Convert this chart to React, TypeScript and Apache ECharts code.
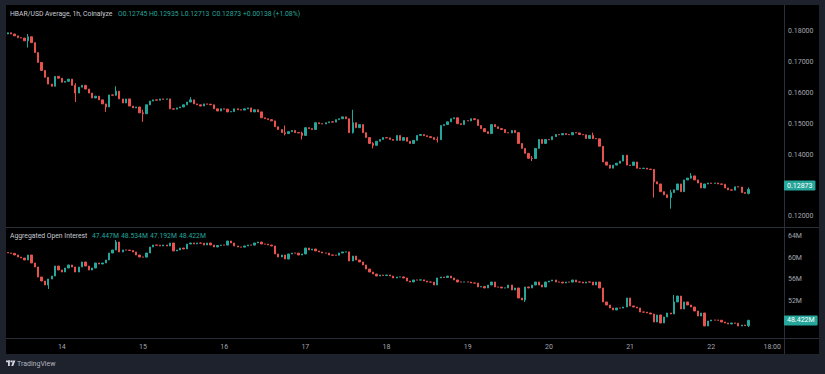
import React, { useEffect, useRef } from 'react';
import * as echarts from 'echarts';

// ---------- data ----------
const START_DAY = 13;
const START_HOUR = 8;
const SLOT_COUNT = 230;

const X_TICK_CATEGORIES = ['14 00:00', '15 00:00', '16 00:00', '17 00:00', '18 00:00', '19 00:00', '20 00:00', '21 00:00', '22 00:00', '22 18:00'];
const X_TICK_LABELS = ['14', '15', '16', '17', '18', '19', '20', '21', '22', '18:00'];

const PRICE_FIRST_OPEN = 0.1790;
const PRICE_CLOSE = [
  // 13th 08:00 ->
  0.1794, 0.1790, 0.1784, 0.1778, 0.1777, 0.1768, 0.1781, 0.1762, 0.1730, 0.1698, 0.1672, 0.1650, 0.1628, 0.1621, 0.1653, 0.1647,
  // 14th
  0.1634, 0.1637, 0.1644, 0.1624, 0.1599, 0.1618, 0.1624, 0.1612, 0.1599, 0.1583, 0.1589, 0.1577, 0.1564, 0.1554, 0.1593, 0.1592, 0.1605, 0.1580, 0.1567, 0.1580, 0.1557, 0.1551, 0.1554, 0.1535,
  // 15th
  0.1532, 0.1561, 0.1573, 0.1577, 0.1576, 0.1580, 0.1579, 0.1580, 0.1548, 0.1547, 0.1551, 0.1554, 0.1561, 0.1570, 0.1577, 0.1564, 0.1561, 0.1557, 0.1564, 0.1563, 0.1561, 0.1548, 0.1541, 0.1548,
  // 16th
  0.1547, 0.1538, 0.1539, 0.1548, 0.1545, 0.1544, 0.1548, 0.1551, 0.1538, 0.1545, 0.1538, 0.1519, 0.1516, 0.1513, 0.1509, 0.1490, 0.1481, 0.1471, 0.1468, 0.1474, 0.1478, 0.1471, 0.1470, 0.1462,
  // 17th
  0.1487, 0.1484, 0.1481, 0.1503, 0.1500, 0.1499, 0.1503, 0.1506, 0.1505, 0.1513, 0.1516, 0.1522, 0.1516, 0.1471, 0.1503, 0.1487, 0.1497, 0.1471, 0.1455, 0.1436, 0.1430, 0.1443, 0.1449, 0.1455,
  // 18th
  0.1454, 0.1449, 0.1446, 0.1462, 0.1446, 0.1455, 0.1443, 0.1436, 0.1446, 0.1462, 0.1465, 0.1461, 0.1458, 0.1455, 0.1449, 0.1448, 0.1494, 0.1497, 0.1506, 0.1516, 0.1519, 0.1500, 0.1497, 0.1510,
  // 19th
  0.1509, 0.1516, 0.1513, 0.1494, 0.1484, 0.1474, 0.1468, 0.1497, 0.1490, 0.1484, 0.1481, 0.1471, 0.1470, 0.1478, 0.1471, 0.1436, 0.1420, 0.1404, 0.1388, 0.1387, 0.1420, 0.1449, 0.1436, 0.1449,
  // 20th
  0.1448, 0.1458, 0.1465, 0.1464, 0.1468, 0.1465, 0.1464, 0.1471, 0.1470, 0.1465, 0.1464, 0.1452, 0.1462, 0.1452, 0.1451, 0.1427, 0.1376, 0.1366, 0.1356, 0.1366, 0.1372, 0.1379, 0.1398, 0.1366,
  // 21st
  0.1365, 0.1376, 0.1356, 0.1355, 0.1356, 0.1353, 0.1352, 0.1312, 0.1305, 0.1280, 0.1270, 0.1261, 0.1277, 0.1286, 0.1305, 0.1280, 0.1318, 0.1324, 0.1331, 0.1318, 0.1308, 0.1292, 0.1305, 0.1308,
  // 22nd
  0.1307, 0.1308, 0.1305, 0.1304, 0.1292, 0.1286, 0.1285, 0.1296, 0.1295, 0.1277, 0.12745, 0.12873,
];
// [index, high, low]
const PRICE_WICKS: [number, number | null, number | null][] = [
  [6, 0.1790, 0.1746], [20, 0.1631, 0.1570], [29, 0.1564, 0.1538], [32, 0.1621, 0.1590], [40, 0.1545, 0.1506],
  [54, 0.1586, 0.1570], [82, 0.1494, 0.1462], [87, 0.1474, 0.1449], [102, 0.1545, 0.1468], [108, 0.1440, 0.1420],
  [127, 0.1458, 0.1439], [155, 0.1395, 0.1379], [173, 0.1471, 0.1450], [191, 0.1353, 0.1261], [196, 0.1286, 0.1225],
  [202, 0.1340, 0.1322], [219, 0.12935, 0.12713],
];

const OI_FIRST_OPEN = 60.95;
const OI_CLOSE = [
  // 13th 08:00 ->
  60.86, 60.80, 60.49, 60.12, 59.94, 59.57, 60.49, 59.02, 58.28, 56.43, 55.69, 54.95, 56.06, 56.61, 58.46, 57.72,
  // 14th
  57.35, 58.09, 58.65, 58.28, 57.35, 58.28, 59.20, 58.46, 57.72, 58.09, 59.02, 58.83, 59.02, 59.57, 60.86, 61.42, 62.89, 61.05, 61.42, 61.40, 61.33, 61.05, 60.49, 60.12,
  // 15th
  60.10, 60.86, 61.97, 62.34, 62.30, 62.16, 62.34, 62.16, 62.71, 61.24, 61.42, 61.78, 61.60, 62.52, 62.71, 62.52, 62.71, 62.68, 62.34, 62.71, 62.34, 61.97, 62.25, 62.34,
  // 16th
  62.32, 63.08, 62.71, 62.16, 61.97, 61.95, 62.16, 62.34, 62.32, 62.71, 62.89, 62.52, 62.50, 62.34, 62.16, 60.68, 60.12, 60.49, 59.75, 60.68, 60.86, 60.84, 60.49, 60.68,
  // 17th
  61.78, 61.42, 61.60, 61.24, 61.05, 60.86, 60.84, 60.49, 60.47, 60.45, 60.86, 61.05, 61.07, 59.39, 60.30, 59.57, 59.20, 58.65, 57.90, 57.35, 56.98, 56.61, 56.80, 56.70,
  // 18th
  56.80, 56.61, 56.25, 56.43, 56.45, 56.25, 55.69, 55.51, 55.88, 55.86, 55.90, 55.69, 55.51, 55.50, 54.95, 56.25, 56.43, 56.34, 56.61, 56.25, 55.88, 55.51, 55.50, 55.52,
  // 19th
  55.50, 55.32, 55.30, 54.59, 54.68, 54.40, 54.95, 55.51, 54.59, 54.57, 54.40, 54.42, 54.95, 54.03, 54.40, 52.55, 52.19, 54.59, 54.40, 54.95, 55.51, 54.95, 54.59, 55.51,
  // 20th
  55.69, 55.88, 55.51, 55.49, 55.32, 55.51, 55.49, 55.88, 55.51, 55.50, 55.32, 55.51, 55.50, 54.95, 55.51, 54.40, 51.82, 51.26, 50.71, 50.34, 50.71, 50.69, 50.89, 52.55,
  // 21st
  51.08, 50.89, 50.71, 49.97, 49.95, 49.79, 49.60, 48.12, 49.42, 47.94, 49.05, 49.79, 49.60, 51.82, 52.92, 50.52, 51.82, 51.26, 50.89, 50.15, 49.23, 49.79, 47.39, 48.31,
  // 22nd
  48.49, 48.47, 48.45, 48.12, 47.94, 47.75, 47.94, 47.90, 47.39, 47.57, 47.447, 48.422,
];
const OI_WICKS: [number, number | null, number | null][] = [
  [12, null, 54.22], [32, 63.26, null], [101, 60.70, null], [153, null, 51.82], [197, 53.11, null], [219, 48.534, 47.192],
];

const PRICE_TICK = { min: 0.11, max: 0.19, interval: 0.01 };
const OI_TICK = { min: 44, max: 68, interval: 4 };
const OI_HIDDEN_TICK = 48; // covered by the last-value tag in the reference

const PRICE_LEGEND_TITLE = 'HBAR/USD Average, 1h, Coinalyze';
const PRICE_LEGEND_VALUES = ['O0.12745', 'H0.12935', 'L0.12713', 'C0.12873', '+0.00138 (+1.08%)'];
const OI_LEGEND_TITLE = 'Aggregated Open Interest';
const OI_LEGEND_VALUES = ['47.447M', '48.534M', '47.192M', '48.422M'];

// ---------- styling / layout ----------
const UP = '#26a69a';
const DOWN = '#e8524e';
const FRAME = '#1e222d';
const LINE = '#2a2e39';
const AXIS_TEXT = '#a3a6af';
const LEGEND_TEXT = '#c9ccd4';
const FONT = 'Roboto, "Noto Sans", sans-serif';
const PRICE_LEGEND_X = [118, 149, 181, 212, 243];
const OI_LEGEND_X = [92, 121, 150, 179];

function buildCandles(closes: number[], firstOpen: number, wicks: [number, number | null, number | null][]) {
  const wm = new Map<number, [number | null, number | null]>();
  wicks.forEach(([i, h, l]) => wm.set(i, [h, l]));
  return closes.map((c, i) => {
    const o = i === 0 ? firstOpen : closes[i - 1];
    let hi = Math.max(o, c);
    let lo = Math.min(o, c);
    const w = wm.get(i);
    if (w) {
      if (w[0] != null) hi = Math.max(hi, w[0]);
      if (w[1] != null) lo = Math.min(lo, w[1]);
    }
    return [o, c, lo, hi];
  });
}

function buildCategories() {
  const cats: string[] = [];
  for (let i = 0; i < SLOT_COUNT; i++) {
    const h = START_HOUR + i;
    const day = START_DAY + Math.floor(h / 24);
    const hh = h % 24;
    cats.push(`${day} ${String(hh).padStart(2, '0')}:00`);
  }
  return cats;
}

const legendText = (text: string, x: number, y: number, fill: string) => ({
  type: 'text', z: 101, x, y,
  style: { text, fill, fontSize: 6.8, fontFamily: FONT, verticalAlign: 'middle' },
});

export default function App() {
  const ref = useRef<HTMLDivElement>(null);
  useEffect(() => {
    if (!ref.current) return;
    const chart = echarts.init(ref.current, undefined, { renderer: 'svg' });
    const cats = buildCategories();
    const tickMap: Record<string, string> = {};
    X_TICK_CATEGORIES.forEach((c, i) => (tickMap[c] = X_TICK_LABELS[i]));
    const priceData = buildCandles(PRICE_CLOSE, PRICE_FIRST_OPEN, PRICE_WICKS);
    const oiData = buildCandles(OI_CLOSE, OI_FIRST_OPEN, OI_WICKS);
    const lastPrice = PRICE_CLOSE[PRICE_CLOSE.length - 1];
    const lastOi = OI_CLOSE[OI_CLOSE.length - 1];

    const candleStyle = { color: UP, color0: DOWN, borderColor: UP, borderColor0: DOWN, borderWidth: 1 };
    const tagLabel = (text: string) => ({
      show: true,
      position: 'end',
      distance: 0,
      formatter: text,
      backgroundColor: UP,
      color: '#ffffff',
      fontSize: 7,
      fontFamily: FONT,
      padding: [2, 3, 1, 3],
      borderRadius: 1,
    });

    const hiddenX = (gridIndex: number) => ({
      type: 'category', gridIndex, data: cats, boundaryGap: true, show: false,
    });

    const option: any = {
      animation: false,
      backgroundColor: '#000000',
      grid: [
        { left: 6, right: 41, top: -3.333, height: 250.667 },
        { left: 6, right: 41, top: 214.333, height: 130 },
        { left: 6, right: 41, top: 338, height: 1 },
      ],
      xAxis: [
        hiddenX(0),
        hiddenX(1),
        {
          type: 'category', gridIndex: 2, data: cats, boundaryGap: true,
          axisLine: { show: false }, axisTick: { show: false }, splitLine: { show: false },
          axisLabel: {
            interval: (_i: number, v: string) => tickMap[v] !== undefined,
            formatter: (v: string) => tickMap[v] || '',
            color: AXIS_TEXT, fontSize: 7, fontFamily: FONT, margin: 4,
          },
        },
      ],
      yAxis: [
        {
          type: 'value', gridIndex: 0, position: 'right', ...PRICE_TICK,
          axisLine: { show: false }, axisTick: { show: false }, splitLine: { show: false },
          axisLabel: {
            showMinLabel: false, showMaxLabel: false, margin: 4,
            formatter: (v: number) => v.toFixed(5), color: AXIS_TEXT, fontSize: 7, fontFamily: FONT,
          },
        },
        {
          type: 'value', gridIndex: 1, position: 'right', ...OI_TICK,
          axisLine: { show: false }, axisTick: { show: false }, splitLine: { show: false },
          axisLabel: {
            showMinLabel: false, showMaxLabel: false, margin: 4,
            formatter: (v: number) => (Math.abs(v - OI_HIDDEN_TICK) < 1e-6 ? '' : `${v}M`),
            color: AXIS_TEXT, fontSize: 7, fontFamily: FONT,
          },
        },
        { type: 'value', gridIndex: 2, show: false, min: 0, max: 1 },
      ],
      series: [
        {
          type: 'candlestick', xAxisIndex: 0, yAxisIndex: 0, data: priceData, barWidth: 1.8,
          itemStyle: candleStyle,
          markLine: {
            silent: true, symbol: ['none', 'none'], lineStyle: { color: 'rgba(0,0,0,0)', width: 0 },
            label: tagLabel(lastPrice.toFixed(5)),
            data: [{ yAxis: lastPrice }],
          },
        },
        {
          type: 'candlestick', xAxisIndex: 1, yAxisIndex: 1, data: oiData, barWidth: 1.8,
          itemStyle: candleStyle,
          markLine: {
            silent: true, symbol: ['none', 'none'], lineStyle: { color: 'rgba(0,0,0,0)', width: 0 },
            label: tagLabel(`${lastOi.toFixed(3)}M`),
            data: [{ yAxis: lastOi }],
          },
        },
      ],
      graphic: [
        // separators
        { type: 'line', z: 1, shape: { x1: 784.5, y1: 5, x2: 784.5, y2: 354 }, style: { stroke: LINE, lineWidth: 1 } },
        { type: 'line', z: 1, shape: { x1: 6, y1: 227.5, x2: 819, y2: 227.5 }, style: { stroke: LINE, lineWidth: 1 } },
        { type: 'line', z: 1, shape: { x1: 6, y1: 338.5, x2: 819, y2: 338.5 }, style: { stroke: LINE, lineWidth: 1 } },
        // frame
        { type: 'rect', z: 100, shape: { x: 0, y: 0, width: 6, height: 374 }, style: { fill: FRAME } },
        { type: 'rect', z: 100, shape: { x: 0, y: 0, width: 825, height: 5 }, style: { fill: FRAME } },
        { type: 'rect', z: 100, shape: { x: 819, y: 0, width: 6, height: 374 }, style: { fill: FRAME } },
        { type: 'rect', z: 100, shape: { x: 0, y: 354, width: 825, height: 20 }, style: { fill: FRAME } },
        // legends
        legendText(PRICE_LEGEND_TITLE, 10, 14, LEGEND_TEXT),
        ...PRICE_LEGEND_VALUES.map((t, i) => legendText(t, PRICE_LEGEND_X[i], 14, UP)),
        legendText(OI_LEGEND_TITLE, 10, 236, LEGEND_TEXT),
        ...OI_LEGEND_VALUES.map((t, i) => legendText(t, OI_LEGEND_X[i], 236, UP)),
        // TradingView logo
        { type: 'rect', z: 101, shape: { x: 6, y: 360.5, width: 4.6, height: 1.8 }, style: { fill: '#d1d4dc' } },
        { type: 'rect', z: 101, shape: { x: 8, y: 360.5, width: 1.8, height: 5.5 }, style: { fill: '#d1d4dc' } },
        { type: 'circle', z: 101, shape: { cx: 11.8, cy: 361.4, r: 0.95 }, style: { fill: '#d1d4dc' } },
        { type: 'polygon', z: 101, shape: { points: [[13.2, 360.5], [15.4, 360.5], [13.2, 366], [11.2, 366]] }, style: { fill: '#d1d4dc' } },
        {
          type: 'text', z: 101, x: 17, y: 363.5,
          style: { text: 'TradingView', fill: '#b2b5be', fontSize: 7, fontFamily: FONT, verticalAlign: 'middle' },
        },
      ],
    };
    chart.setOption(option);
    return () => chart.dispose();
  }, []);
  return <div ref={ref} style={{ position: 'absolute', left: 0, top: 0, width: 825, height: 374 }} />;
}
